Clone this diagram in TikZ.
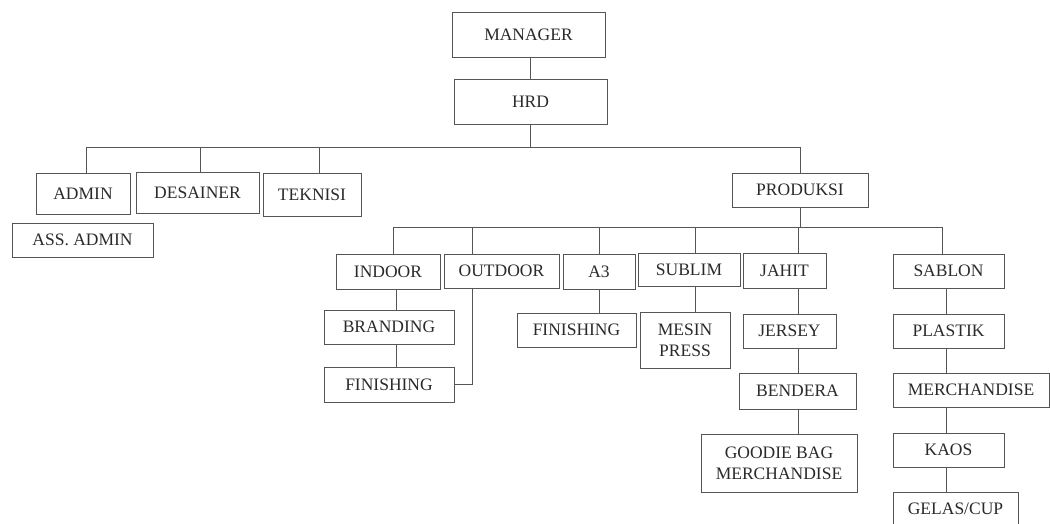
\documentclass[tikz,border=0pt]{standalone}
\usepackage{fontspec}
\setmainfont{Liberation Serif}
\definecolor{linec}{HTML}{555555}
\definecolor{textc}{HTML}{2A2A2A}
\tikzset{
  box/.style={draw=linec, line width=0.8pt, inner sep=0pt, align=center, text=textc,
    font=\fontsize{17.5}{21}\selectfont},
  conn/.style={draw=linec, line width=0.8pt}
}
\newcommand\bx[6]{\node[box, minimum width={#4pt-#2pt}, minimum height={#5pt-#3pt}] (#1) at ({(#2+#4)/2},{(#3+#5)/2}) {#6};}
\begin{document}
\begin{tikzpicture}[x=1pt,y=-1pt]
\useasboundingbox[fill=white] (0,0) rectangle (1050,524);
% boxes
\bx{mgr}{452}{12}{605}{57}{MANAGER}
\bx{hrd}{454}{79}{607}{124}{HRD}
\bx{admin}{36}{173}{130}{214}{ADMIN}
\bx{desainer}{136}{172}{259}{213}{DESAINER}
\bx{teknisi}{263}{173}{361}{216}{TEKNISI}
\bx{assadmin}{12}{223}{153}{257}{ASS. ADMIN}
\bx{produksi}{732}{173}{868}{207}{PRODUKSI}
\bx{indoor}{336}{254}{440}{289}{INDOOR}
\bx{outdoor}{444}{254}{559}{288}{OUTDOOR}
\bx{a3}{563}{254}{635}{289}{A3}
\bx{sublim}{638}{253}{740}{286}{SUBLIM}
\bx{jahit}{743}{253}{826}{288}{JAHIT}
\bx{sablon}{893}{254}{1004}{288}{SABLON}
\bx{branding}{324}{310}{454}{344}{BRANDING}
\bx{fina}{324}{367}{454}{402}{FINISHING}
\bx{finb}{517}{313}{636}{347}{FINISHING}
\bx{mesin}{640}{312}{730}{368}{MESIN\\PRESS}
\bx{jersey}{743}{314}{836}{348}{JERSEY}
\bx{bendera}{739}{373}{856}{409}{BENDERA}
\bx{goodie}{701}{434}{857}{492}{GOODIE BAG\\MERCHANDISE}
\bx{plastik}{893}{314}{1004}{348}{PLASTIK}
\bx{merch}{893}{373}{1049}{407}{MERCHANDISE}
\bx{kaos}{893}{433}{1004}{467}{KAOS}
\bx{gelas}{893}{492}{1018}{525}{GELAS/CUP}
% connectors top
\draw[conn] (hrd.north) -- (hrd.north |- mgr.south);
\draw[conn] (hrd.south) -- ++(0,24);
\draw[conn] ([xshift=3pt]admin.north) -- ++(0,-25) -| (produksi.north);
\draw[conn] ([xshift=2.5pt]desainer.north) -- ++(0,-24);
\draw[conn] ([xshift=7pt]teknisi.north) -- ++(0,-25);
% produksi bar
\draw[conn] (produksi.south) -- ++(0,21);
\draw[conn] ([xshift=5pt]indoor.north) -- ++(0,-26) -| ([xshift=-6.5pt]sablon.north);
\draw[conn] ([xshift=-29.5pt]outdoor.north) -- ++(0,-26);
\draw[conn] (a3.north) -- ++(0,-26);
\draw[conn] ([xshift=6pt]sublim.north) -- ++(0,-25);
\draw[conn] ([xshift=13.5pt]jahit.north) -- ++(0,-25);
% sub chains
\draw[conn] ([xshift=8pt]indoor.south) -- ([xshift=7pt]branding.north);
\draw[conn] ([xshift=7pt]branding.south) -- ([xshift=7pt]fina.north);
\draw[conn] ([xshift=-29.5pt]outdoor.south) |- (fina.east);
\draw[conn] (a3.south) -- ([xshift=22.5pt]finb.north);
\draw[conn] ([xshift=6pt]sublim.south) -- ([xshift=10pt]mesin.north);
\draw[conn] ([xshift=13.5pt]jahit.south) -- ([xshift=8.5pt]jersey.north);
\draw[conn] ([xshift=8.5pt]jersey.south) -- ([xshift=0.5pt]bendera.north);
\draw[conn] ([xshift=0.5pt]bendera.south) -- ([xshift=19pt]goodie.north);
\draw[conn] ([xshift=-2.5pt]sablon.south) -- ([xshift=-2.5pt]plastik.north);
\draw[conn] ([xshift=-2.5pt]plastik.south) -- ([xshift=-25pt]merch.north);
\draw[conn] ([xshift=-25pt]merch.south) -- ([xshift=-2.5pt]kaos.north);
\draw[conn] ([xshift=-2.5pt]kaos.south) -- ([xshift=-9.5pt]gelas.north);
\end{tikzpicture}
\end{document}
